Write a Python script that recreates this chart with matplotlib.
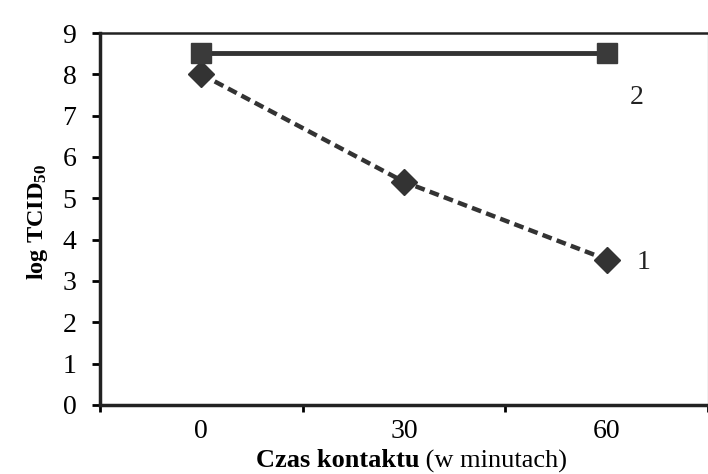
import matplotlib
matplotlib.use("Agg")
import matplotlib.pyplot as plt
from matplotlib.offsetbox import TextArea, HPacker, AnchoredOffsetbox

categories = ["0", "30", "60"]
series1 = [8.0, 5.4, 3.52]          # krzywa 1 (romby, przerywana)
series2 = [8.52, None, 8.52]        # krzywa 2 (kwadraty, ciągła)
yticks = list(range(0, 10))

plt.rcParams['font.family'] = ['Liberation Serif', 'DejaVu Serif']
plt.rcParams['mathtext.fontset'] = 'custom'
plt.rcParams['mathtext.rm'] = 'Liberation Serif'
plt.rcParams['mathtext.bf'] = 'Liberation Serif:bold'
plt.rcParams['mathtext.it'] = 'Liberation Serif:italic'

fig = plt.figure(figsize=(7.08, 4.74), dpi=100)
ax = fig.add_axes([100/708, 1-405/474, 608/708, (405-33)/474])

x = list(range(len(categories)))
ax.plot(x, series1, linestyle=(0, (2.2, 1.2)), color="#333333", lw=3.2,
        marker="D", markersize=13, markerfacecolor="#333333",
        markeredgecolor="#333333", zorder=3)
x2 = [xi for xi, v in zip(x, series2) if v is not None]
y2 = [v for v in series2 if v is not None]
ax.plot(x2, y2, linestyle="-", color="#333333", lw=3.5,
        marker="s", markersize=14, markerfacecolor="#3a3a3a",
        markeredgecolor="#3a3a3a", zorder=3)

ax.text(2.15, 7.45, "2", fontsize=20, ha="center", va="center", color="#222222")
ax.text(2.18, 3.45, "1", fontsize=20, ha="center", va="center", color="#222222")

ax.set_xlim(-0.5, 2.465)
ax.set_ylim(0, 9)
ax.set_yticks(yticks)
ax.set_yticklabels([str(t) for t in yticks], fontsize=20)
ax.set_xticks([-0.5, 0.5, 1.5, 2.5])
ax.set_xticklabels([])
ax.set_xticks(x, minor=True)
ax.set_xticklabels(categories, minor=True, fontsize=20)
ax.tick_params(axis="x", which="minor", length=0, pad=10)
ax.tick_params(axis="x", which="major", length=5, width=2, direction="out")
ax.tick_params(axis="y", length=6, width=2, direction="out", pad=11)

for s in ["left", "bottom"]:
    ax.spines[s].set_linewidth(2.5)
    ax.spines[s].set_color("#222222")
ax.spines["top"].set_linewidth(1.8)
ax.spines["top"].set_color("#222222")
ax.spines["right"].set_linewidth(1.0)
ax.spines["right"].set_color("#bbbbbb")

# x label with bold part
t1 = TextArea("Czas kontaktu", textprops=dict(fontsize=19, fontweight="bold", family=['Liberation Serif']))
t2 = TextArea(" (w minutach)", textprops=dict(fontsize=19, family=['Liberation Serif']))
box = HPacker(children=[t1, t2], align="baseline", pad=0, sep=0)
ab = AnchoredOffsetbox(loc="center", child=box, frameon=False,
                       bbox_to_anchor=((255+568)/2/708, 1-461/474),
                       bbox_transform=fig.transFigure, borderpad=0, pad=0)
fig.add_artist(ab)

fig.text(38/708, 1-222/474, r"log TCID$_{\mathbf{50}}$", fontsize=17.5, fontweight="bold",
         rotation=90, ha="center", va="center")

fig.savefig("out.png", dpi=100)
